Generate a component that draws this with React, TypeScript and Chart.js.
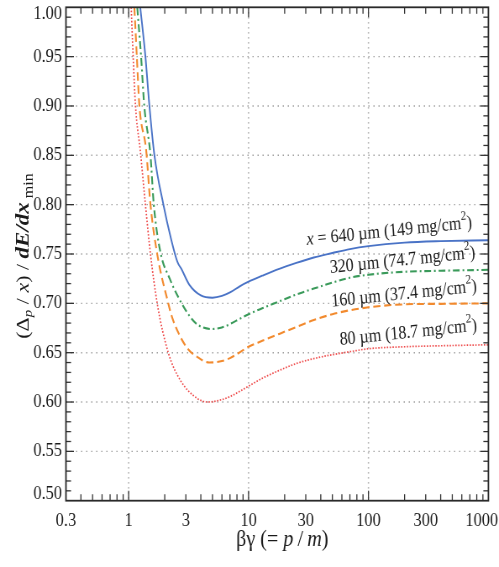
import React, { useEffect, useRef } from 'react';
import { Chart, registerables } from 'chart.js';

Chart.register(...registerables);

// ---------------- data ----------------
const x640 = [1.25, 1.38, 1.49, 1.64, 1.95, 2.25, 2.55, 2.75, 3.2, 4.0, 5.0, 6.0, 7.0, 8.5, 10, 13, 18, 25, 35, 50, 70, 100, 200, 400, 1000];
const y640 = [1.0, 0.95, 0.9, 0.85, 0.8, 0.766, 0.742, 0.735, 0.719, 0.708, 0.7057, 0.7075, 0.711, 0.7175, 0.722, 0.728, 0.735, 0.741, 0.7465, 0.751, 0.755, 0.758, 0.7615, 0.763, 0.764];

const x320 = [1.18, 1.27, 1.35, 1.52, 1.62, 1.84, 2.2, 2.6, 3.27, 3.8, 4.9, 6.0, 7.0, 8.5, 10, 13, 18, 25, 35, 50, 70, 100, 200, 400, 1000];
const y320 = [1.0, 0.95, 0.9, 0.85, 0.8, 0.752, 0.725, 0.706, 0.686, 0.678, 0.674, 0.6755, 0.679, 0.6845, 0.689, 0.695, 0.702, 0.709, 0.715, 0.721, 0.726, 0.729, 0.732, 0.733, 0.734];

const x160 = [1.115, 1.17, 1.23, 1.4, 1.52, 1.73, 2.14, 2.3, 2.7, 3.16, 3.7, 4.7, 6.0, 7.0, 8.5, 10, 13, 18, 25, 35, 50, 70, 100, 200, 400, 1000];
const y160 = [1.0, 0.95, 0.9, 0.855, 0.8, 0.75, 0.7, 0.686, 0.666, 0.653, 0.646, 0.64, 0.6415, 0.6445, 0.6505, 0.656, 0.662, 0.669, 0.676, 0.683, 0.689, 0.693, 0.696, 0.699, 0.6995, 0.7];

const x80 = [1.05, 1.09, 1.14, 1.25, 1.38, 1.52, 1.73, 2.14, 2.7, 3.7, 4.6, 6.0, 7.0, 8.5, 10, 13, 18, 25, 35, 50, 70, 100, 200, 400, 1000];
const y80 = [1.0, 0.95, 0.9, 0.855, 0.8, 0.75, 0.7, 0.65, 0.622, 0.604, 0.6, 0.6025, 0.6055, 0.611, 0.616, 0.624, 0.632, 0.639, 0.644, 0.648, 0.651, 0.654, 0.656, 0.657, 0.658];

const xTickValues = [0.3, 1, 3, 10, 30, 100, 300, 1000];
const xTickLabels = ['0.3', '1', '3', '10', '30', '100', '300', '1000'];
const yTickValues = [0.5, 0.55, 0.6, 0.65, 0.7, 0.75, 0.8, 0.85, 0.9, 0.95, 1.0];
const yTickLabels = ['0.50', '0.55', '0.60', '0.65', '0.70', '0.75', '0.80', '0.85', '0.90', '0.95', '1.00'];
const xGridValues = [1, 10, 100];
const yGridValues = [0.55, 0.6, 0.65, 0.7, 0.75, 0.8, 0.85, 0.9, 0.95];

const labelThickness = ['640 µm', '320 µm', '160 µm', '80 µm'];
const labelDensity = ['149', '74.7', '37.4', '18.7'];
const labelAtX = [30.7, 48, 49.5, 58];
const labelAtY = [0.759, 0.7307, 0.6966, 0.6578];

// ---------------- layout ----------------
const SX = 0.84;
const W = 594;
const H = 567;
const SERIF = "'Liberation Serif', 'DejaVu Serif', serif";

type Seg = { t: string; f: string; dy?: number };

function drawRich(ctx: CanvasRenderingContext2D, segs: Seg[], x: number, y: number, angle: number, align: 'left' | 'center', color = '#1a1a1a') {
  ctx.save();
  ctx.translate(x, y);
  ctx.rotate(angle);
  ctx.fillStyle = color;
  ctx.textBaseline = 'alphabetic';
  ctx.textAlign = 'left';
  const widths = segs.map((s) => {
    ctx.font = s.f;
    return ctx.measureText(s.t).width;
  });
  const total = widths.reduce((a, b) => a + b, 0);
  let cx = align === 'center' ? -total / 2 : 0;
  segs.forEach((s, i) => {
    ctx.font = s.f;
    ctx.fillText(s.t, cx, s.dy || 0);
    cx += widths[i];
  });
  ctx.restore();
}

function seg(ctx: CanvasRenderingContext2D, x1: number, y1: number, x2: number, y2: number) {
  ctx.beginPath();
  ctx.moveTo(x1, y1);
  ctx.lineTo(x2, y2);
  ctx.stroke();
}

const decorPlugin = {
  id: 'decor',
  beforeDatasetsDraw(chart: any) {
    const { ctx, chartArea: a, scales } = chart;
    const xs = scales.x;
    const ys = scales.y;
    ctx.save();
    ctx.strokeStyle = '#a0a0a0';
    ctx.lineWidth = 1.4;
    ctx.setLineDash([1.5, 4.5]);
    for (const v of yGridValues) {
      const py = ys.getPixelForValue(v);
      seg(ctx, a.left, py, a.right, py);
    }
    ctx.lineWidth = 1.6;
    ctx.setLineDash([1.3, 3.7]);
    for (const v of xGridValues) {
      const px = xs.getPixelForValue(v);
      seg(ctx, px, a.top, px, a.bottom);
    }
    ctx.restore();
  },
  afterDatasetsDraw(chart: any) {
    const { ctx, chartArea: a, scales } = chart;
    const xs = scales.x;
    const ys = scales.y;
    ctx.save();
    ctx.setLineDash([]);
    ctx.strokeStyle = '#333';
    ctx.lineWidth = 1.3;
    const decades = [0.1, 1, 10, 100];
    for (const d of decades) {
      for (let m = 1; m <= 9; m++) {
        const v = m * d;
        if (v <= 0.3 + 1e-9 || v >= 1000 - 1e-9) continue;
        const len = m === 1 ? 10 : 6.5;
        const px = xs.getPixelForValue(v);
        seg(ctx, px, a.bottom, px, a.bottom - len);
        seg(ctx, px, a.top, px, a.top + len);
      }
    }
    for (let i = 51; i < 100; i++) {
      const v = i / 100;
      const len = i % 5 === 0 ? 9.5 : 6;
      const py = ys.getPixelForValue(v);
      seg(ctx, a.left, py, a.left + len, py);
      seg(ctx, a.right, py, a.right - len, py);
    }
    ctx.lineWidth = 1.8;
    ctx.strokeStyle = '#2a2a2a';
    ctx.strokeRect(a.left, a.top, a.right - a.left, a.bottom - a.top);
    ctx.restore();
  },
  afterDraw(chart: any) {
    const { ctx, chartArea: a, scales } = chart;
    const xs = scales.x;
    const ys = scales.y;
    ctx.save();
    ctx.font = `19.5px ${SERIF}`;
    ctx.fillStyle = '#1a1a1a';
    ctx.textAlign = 'right';
    ctx.textBaseline = 'middle';
    yTickValues.forEach((v, i) => {
      let py = ys.getPixelForValue(v);
      py = Math.min(Math.max(py, a.top + 6.5), a.bottom - 6.5);
      ctx.fillText(yTickLabels[i], a.left - 4.7, py);
    });
    ctx.textAlign = 'center';
    ctx.textBaseline = 'alphabetic';
    xTickValues.forEach((v, i) => {
      let px = xs.getPixelForValue(v);
      const w = ctx.measureText(xTickLabels[i]).width;
      px = Math.min(px, W - w / 2 - 1);
      ctx.fillText(xTickLabels[i], px, 526);
    });
    ctx.restore();

    // x title
    const xf = `24px ${SERIF}`;
    const xfi = `italic 24px ${SERIF}`;
    drawRich(ctx, [
      { t: 'βγ (= ', f: xf },
      { t: 'p', f: xfi },
      { t: '\u2009/\u2009', f: xf },
      { t: 'm', f: xfi },
      { t: ')', f: xf },
    ], 336, 546, 0, 'center');

    // y title
    const tf = `22px ${SERIF}`;
    drawRich(ctx, [
      { t: '(Δ', f: tf },
      { t: 'p', f: `italic 15px ${SERIF}`, dy: 4 },
      { t: ' / ', f: tf },
      { t: 'x', f: `italic 22px ${SERIF}` },
      { t: ') / ', f: tf },
      { t: 'dE/dx', f: `bold italic 23px ${SERIF}` },
      { t: ' min', f: `16px ${SERIF}`, dy: 5 },
    ], 33.5, 256, -Math.PI / 2, 'center');

    // curve labels
    const lf = `19px ${SERIF}`;
    const ang = (-5 * Math.PI) / 180;
    labelThickness.forEach((t, i) => {
      const px = xs.getPixelForValue(labelAtX[i]);
      const py = ys.getPixelForValue(labelAtY[i]);
      const segs: Seg[] = [];
      if (i === 0) {
        segs.push({ t: 'x', f: `italic 19px ${SERIF}` });
        segs.push({ t: ' = ', f: lf });
      }
      segs.push({ t: `${t} (${labelDensity[i]} mg/cm`, f: lf });
      segs.push({ t: '2', f: `13px ${SERIF}`, dy: -9 });
      segs.push({ t: ')', f: lf });
      drawRich(ctx, segs, px, py, ang, 'left');
    });
  },
};

const series = [
  { xs: x640, ys: y640, color: '#4a73c6', dash: [] as number[], width: 1.9 },
  { xs: x320, ys: y320, color: '#3a9a5a', dash: [8, 3.5, 2, 3.5], width: 2.1 },
  { xs: x160, ys: y160, color: '#f28a2e', dash: [8.5, 4.5], width: 2.1 },
  { xs: x80, ys: y80, color: '#ee4b4b', dash: [1.6, 1.8], width: 1.7 },
];

export default function App() {
  const ref = useRef<HTMLCanvasElement | null>(null);
  useEffect(() => {
    document.body.style.margin = '0';
    const canvas = ref.current;
    if (!canvas) return;
    const chart = new Chart(canvas, {
      type: 'line',
      data: {
        datasets: series.map((s) => ({
          data: s.xs.map((x, i) => ({ x, y: s.ys[i] })),
          borderColor: s.color,
          borderWidth: s.width,
          borderDash: s.dash,
          pointRadius: 0,
          fill: false,
          cubicInterpolationMode: 'monotone' as const,
          clip: 0,
        })),
      },
      options: {
        animation: false,
        responsive: false,
        layout: { padding: { left: 78.5, right: 12.6, top: 7.3, bottom: 66.3 } },
        plugins: { legend: { display: false }, tooltip: { enabled: false } },
        scales: {
          x: { type: 'logarithmic', min: 0.3, max: 1000, display: false },
          y: { type: 'linear', min: 0.5, max: 1.0, display: false },
        },
      },
      plugins: [decorPlugin],
    });
    return () => chart.destroy();
  }, []);
  return (
    <div style={{ width: 499, height: 567, overflow: 'hidden', position: 'relative', background: '#fff' }}>
      <div style={{ position: 'absolute', left: 0, top: 0, width: W, height: H, transform: `scaleX(${SX})`, transformOrigin: '0 0' }}>
        <canvas ref={ref} width={W} height={H} />
      </div>
    </div>
  );
}
